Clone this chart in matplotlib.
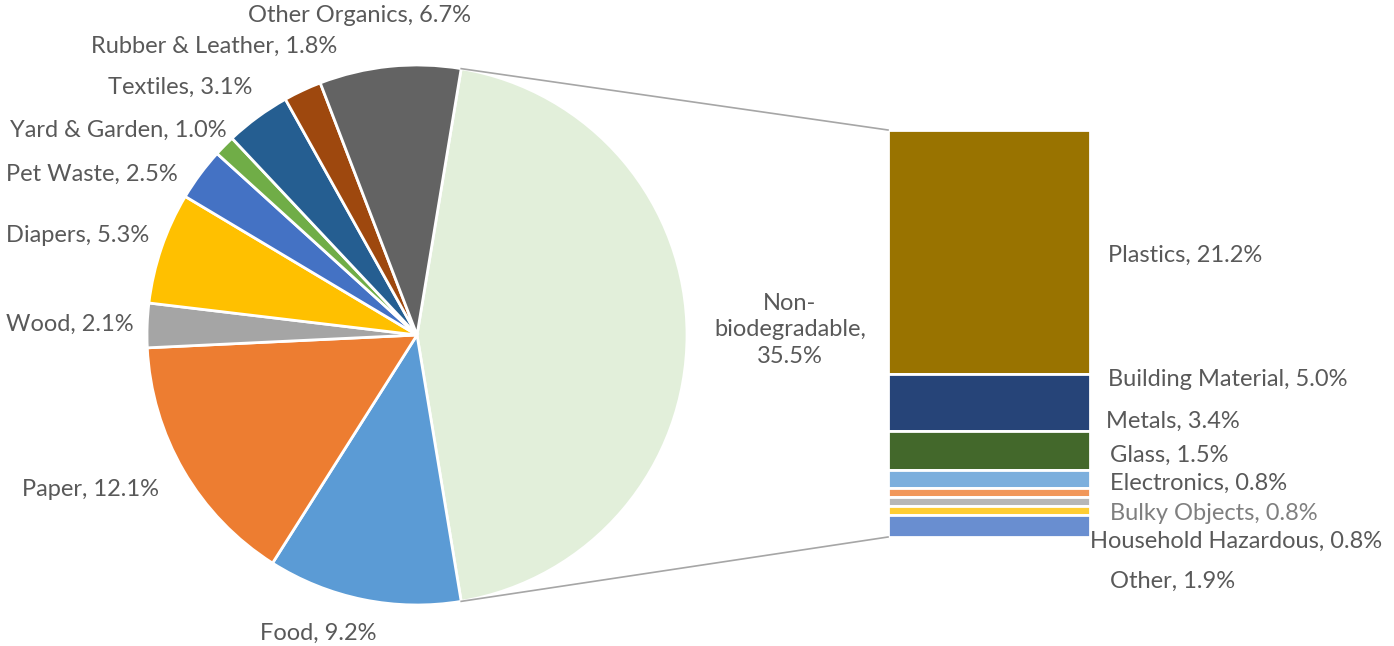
import numpy as np
import matplotlib
matplotlib.use("Agg")
import matplotlib.pyplot as plt

# pie slices (clockwise from the big "other" slice)
pie_labels = ["Non-\nbiodegradable", "Food", "Paper", "Wood", "Diapers", "Pet Waste",
              "Yard & Garden", "Textiles", "Rubber & Leather", "Other Organics"]
pie_values = [35.5, 9.2, 12.1, 2.1, 5.3, 2.5, 1.0, 3.1, 1.8, 6.7]
pie_colors = ["#E2EFDA", "#5B9BD5", "#ED7D31", "#A5A5A5", "#FFC000", "#4472C4",
              "#70AD47", "#255E91", "#9E480E", "#636363"]

# stacked bar breaking down the non-biodegradable slice (top to bottom)
bar_labels = ["Plastics", "Building Material", "Metals", "Glass", "Electronics",
              "Bulky Objects", "Household Hazardous", "Other"]
bar_values = [21.2, 5.0, 3.4, 1.5, 0.8, 0.8, 0.8, 1.9]
bar_colors = ["#997300", "#264478", "#43682B", "#7CAFDD", "#F1975A", "#B7B7B7",
              "#FFCD33", "#698ED0"]

W, H = 1394, 646
TEXT = "#595959"
plt.rcParams["font.family"] = ["Lato", "DejaVu Sans"]

fig = plt.figure(figsize=(W / 100, H / 100), dpi=100)
ax = fig.add_axes([0, 0, 1, 1])

# --- pie ---
cx, cy, r = 417, H - 335, 270
frac0 = pie_values[0] / sum(pie_values)
start = 180 * frac0  # centre the first slice on 3 o'clock
ax.pie(pie_values, colors=pie_colors, startangle=start, counterclock=False,
       center=(cx, cy), radius=r, frame=True,
       wedgeprops=dict(edgecolor="white", linewidth=2))
ax.set_xlim(0, W)
ax.set_ylim(0, H)
ax.set_aspect("equal")
ax.axis("off")

# --- stacked bar ---
bx0, bx1 = 888, 1090
btop, bbot = H - 130, H - 537
scale = (btop - bbot) / sum(bar_values)
tops = btop - np.concatenate([[0], np.cumsum(bar_values)[:-1]]) * scale
heights = np.array(bar_values) * scale
ax.bar((bx0 + bx1) / 2, heights, bottom=tops - heights, width=bx1 - bx0,
       color=bar_colors, edgecolor="white", linewidth=2)

# connector lines
a = np.deg2rad(start)
ax.plot([cx + r * np.cos(a), bx0], [cy + r * np.sin(a), btop], color="#A6A6A6", lw=1.2)
ax.plot([cx + r * np.cos(a), bx0], [cy - r * np.sin(a), bbot], color="#A6A6A6", lw=1.2)

fs = 17
# pie labels: (x, y) pixel positions, centered
pie_pos = [(790, 330), (318, 633), (90, 490), (70, 324), (78, 236), (92, 174),
           (118, 130), (180, 87), (214, 46), (360, 16)]
for lab, v, (x, y) in zip(pie_labels, pie_values, pie_pos):
    ax.text(x, H - y, f"{lab}, {v}%" if lab[0] != "N" else f"{lab},\n{v}%",
            ha="center", va="center", fontsize=fs, color=TEXT, linespacing=1.3)

# bar labels: left-aligned
bar_pos = [(1108, 255), (1108, 379), (1106, 421), (1110, 455), (1110, 483),
           (1110, 514), (1090, 541), (1110, 581)]
for lab, v, (x, y) in zip(bar_labels, bar_values, bar_pos):
    ax.text(x, H - y, f"{lab}, {v}%", ha="left", va="center", fontsize=fs,
            color="#7F7F7F" if lab == "Bulky Objects" else TEXT)

fig.savefig("out.png", dpi=100)
